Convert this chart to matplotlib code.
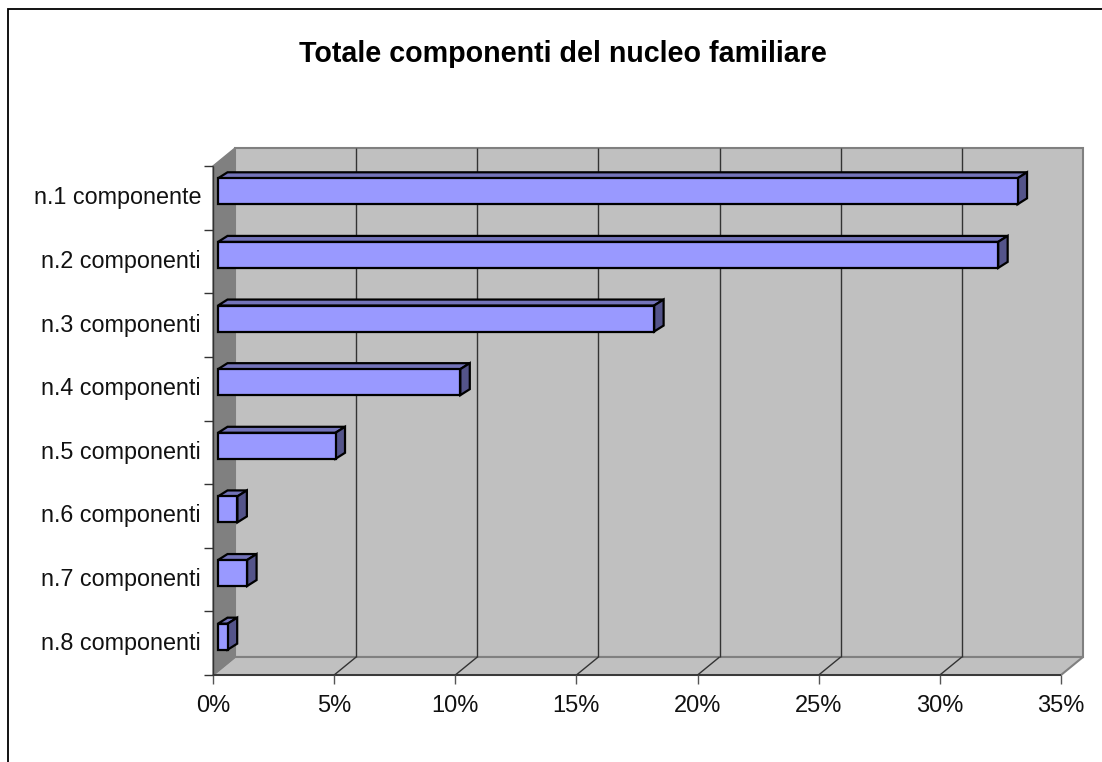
import matplotlib
matplotlib.use("Agg")
import matplotlib.pyplot as plt
from matplotlib.patches import Polygon, Rectangle
from matplotlib.lines import Line2D

plt.rcParams['font.family'] = ['Liberation Sans', 'DejaVu Sans']

title = "Totale componenti del nucleo familiare"
categories = ["n.1 componente", "n.2 componenti", "n.3 componenti", "n.4 componenti",
              "n.5 componenti", "n.6 componenti", "n.7 componenti", "n.8 componenti"]
values = [33.0, 32.2, 18.0, 10.0, 4.85, 0.8, 1.2, 0.4]
xticks = [0, 5, 10, 15, 20, 25, 30, 35]

W, H = 1102, 762
L, R, T, B = 213, 1061, 166, 675      # front plane in pixels
fig = plt.figure(figsize=(W/100, H/100), dpi=100)
ax = fig.add_axes([L/W, 1-B/H, (R-L)/W, (B-T)/H])
ax.set_xlim(0, 35)
ax.set_ylim(8, 0)
ax.axis('off')

px = 35/(R-L)
py = 8/(B-T)
DX, DY = 22*px, 18*py          # wall depth
bx, by = 9.5*px, 6*py          # bar depth
x0 = 5*px                      # bar start
bar_top, bar_bot = 12.3*py, 38.3*py

def poly(pts, fc, ec='none', lw=0, z=1):
    ax.add_patch(Polygon(pts, closed=True, fc=fc, ec=ec, lw=lw, zorder=z, clip_on=False, joinstyle='miter'))

def line(xs, ys, c='#1a1a1a', lw=1.0, z=2):
    ax.add_line(Line2D(xs, ys, color=c, lw=lw, zorder=z, clip_on=False, solid_capstyle='butt'))

# walls
poly([(DX, -DY), (35+DX, -DY), (35+DX, 8-DY), (DX, 8-DY)], '#c0c0c0', '#808080', 1.5, 1)
poly([(0, 8), (35, 8), (35+DX, 8-DY), (DX, 8-DY)], '#c0c0c0', '#808080', 1.5, 1)
poly([(0, 0), (DX, -DY), (DX, 8-DY), (0, 8)], '#808080', '#808080', 1.0, 1.5)

# gridlines
for t in xticks[1:-1]:
    line([t+DX, t+DX], [-DY, 8-DY], '#333333', 1.0, 2)
    line([t, t+DX], [8, 8-DY], '#333333', 1.0, 2)

# axes lines and ticks
line([0, 35], [8, 8], '#333333', 1.3, 3)
line([0, 0], [0, 8], '#333333', 1.0, 3)
for t in xticks:
    line([t, t], [8, 8+9*py], '#555555', 1.0, 3)
    ax.text(t, 8+31*py, f"{t}%", ha='center', va='center', fontsize=17, color='#111111')
for i in range(9):
    line([-9*px, 0], [i, i], '#333333', 1.0, 3)

# bars
for i, (c, v) in enumerate(zip(categories, values)):
    t, b = i+bar_top, i+bar_bot
    x1 = x0 + v
    poly([(x0, t), (x0+bx, t-by), (x1+bx, t-by), (x1, t)], '#7373b9', 'black', 1.6, 5)
    poly([(x1, t), (x1+bx, t-by), (x1+bx, b-by), (x1, b)], '#54548a', 'black', 1.6, 5)
    ax.add_patch(Rectangle((x0, t), v, b-t, fc='#9999ff', ec='black', lw=1.6, zorder=6, clip_on=False))
    ax.text(-12*px, i+0.5, c, ha='right', va='center', fontsize=16.8, color='#111111')

fig.text(563/W, 1-54/H, title, ha='center', va='center', fontsize=20.6, fontweight='bold', color='black')

# outer chart frame
fig.add_artist(Line2D([8/W, 8/W, 1], [0, 1-9/H, 1-9/H], color='black', lw=1.3, transform=fig.transFigure,
                      solid_joinstyle='miter'))

fig.savefig("out.png", dpi=100, facecolor='white')
